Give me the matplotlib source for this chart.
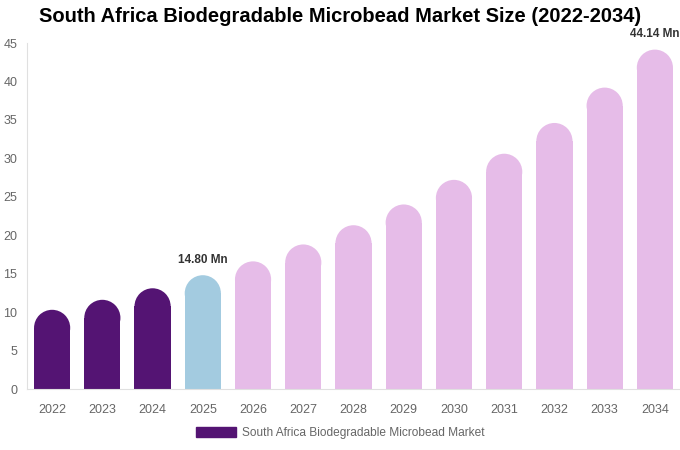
import matplotlib
matplotlib.use('Agg')
import matplotlib.pyplot as plt
from matplotlib.patches import Rectangle, Ellipse, Patch

years = ['2022', '2023', '2024', '2025', '2026', '2027', '2028',
         '2029', '2030', '2031', '2032', '2033', '2034']
values = [10.3, 11.6, 13.1, 14.80, 16.6, 18.8, 21.3, 24.0, 27.2, 30.6, 34.6, 39.2, 44.14]
labels = {3: '14.80 Mn', 12: '44.14 Mn'}
series_name = 'South Africa Biodegradable Microbead Market'

c_hist = '#541473'
c_now = '#a3cbe0'
c_fore = '#e6bce8'

plt.rcParams['font.family'] = ['Liberation Sans', 'DejaVu Sans']

fig = plt.figure(figsize=(6.8, 4.5), dpi=100)
ax = fig.add_axes([27 / 680, 1 - 389 / 450, 653 / 680, 346 / 450])
ax.set_xlim(-0.5, len(years) - 0.5)
ax.set_ylim(0, 45)

bar_w = 0.72
# radius of the rounded top in data units (half bar width in pixels -> y units)
r_px = bar_w / 2 * (653 / len(years))
r_y = r_px * 45 / 346

for i, v in enumerate(values):
    col = c_hist if i < 3 else (c_now if i == 3 else c_fore)
    ax.add_patch(Rectangle((i - bar_w / 2, 0), bar_w, v - r_y, color=col, lw=0))
    ax.add_patch(Ellipse((i, v - r_y), bar_w, 2 * r_y, color=col, lw=0))
    if i in labels:
        ax.text(i, v + 1.2, labels[i], ha='center', va='bottom', fontsize=8.5,
                fontweight='bold', color='#333333', clip_on=False)

ax.set_xticks(range(len(years)))
ax.set_xticklabels(years)
ax.set_yticks(range(0, 46, 5))
ax.tick_params(axis='both', length=0, labelsize=9, colors='#666666')
ax.tick_params(axis='x', pad=11)
ax.tick_params(axis='y', pad=7)
for s in ['top', 'right']:
    ax.spines[s].set_visible(False)
for s in ['left', 'bottom']:
    ax.spines[s].set_color('#e0e0e0')
    ax.spines[s].set_linewidth(0.8)

fig.suptitle('South Africa Biodegradable Microbead Market Size (2022-2034)',
             x=0.5, y=0.985, fontsize=14.5, fontweight='bold', color='#000000')

fig.legend(handles=[Patch(color=c_hist, label=series_name)], loc='center',
           bbox_to_anchor=(0.5, 1 - 433 / 450), frameon=False, fontsize=8.6,
           labelcolor='#666666', handlelength=3.35, handleheight=0.9,
           handletextpad=0.5)

fig.savefig('out.png', dpi=100)
